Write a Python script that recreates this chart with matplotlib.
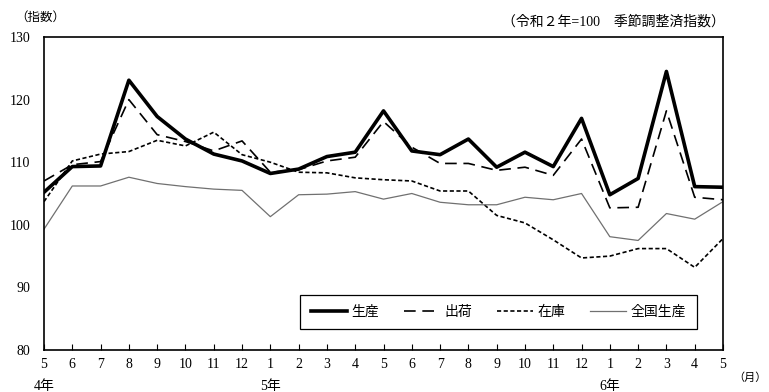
import matplotlib
matplotlib.use("Agg")
import matplotlib.pyplot as plt
from matplotlib.patches import Rectangle

plt.rcParams['font.family'] = ['Liberation Serif', 'Noto Sans CJK JP', 'DejaVu Sans']

# 月ラベル（令和4年5月〜令和6年5月）
months = ['5', '6', '7', '8', '9', '10', '11', '12', '1', '2', '3', '4',
          '5', '6', '7', '8', '9', '10', '11', '12', '1', '2', '3', '4', '5']
year_labels = {0: '4年', 8: '5年', 20: '6年'}

seisan = [105.2, 109.3, 109.4, 123.1, 117.3, 113.7, 111.3, 110.2, 108.2, 108.9, 110.9, 111.6,
          118.2, 111.8, 111.2, 113.7, 109.2, 111.6, 109.3, 117.0, 104.8, 107.4, 124.5, 106.1, 106.0]
shukka = [107.0, 109.6, 110.1, 120.0, 114.4, 113.3, 111.8, 113.4, 108.4, 108.8, 110.2, 110.8,
          116.5, 112.4, 109.8, 109.8, 108.7, 109.2, 107.9, 113.7, 102.7, 102.8, 118.2, 104.4, 104.0]
zaiko = [103.7, 110.2, 111.3, 111.7, 113.5, 112.6, 114.8, 111.2, 110.0, 108.4, 108.3, 107.5,
         107.2, 107.0, 105.4, 105.4, 101.5, 100.3, 97.6, 94.7, 95.0, 96.2, 96.2, 93.2, 97.8]
zenkoku = [99.3, 106.2, 106.2, 107.6, 106.6, 106.1, 105.7, 105.5, 101.3, 104.8, 104.9, 105.3,
           104.1, 105.0, 103.6, 103.2, 103.2, 104.4, 104.0, 105.0, 98.1, 97.5, 101.8, 100.9, 103.7]

x = list(range(len(months)))

fig = plt.figure(figsize=(7.69, 3.92), dpi=100)
ax = fig.add_axes([44/769, 42/392, (723-44)/769, (350-37)/392])

ax.plot(x, seisan, color='black', lw=2.6, label='生産')
ax.plot(x, shukka, color='black', lw=1.2, dashes=(7, 4), label='出荷')
ax.plot(x, zaiko, color='black', lw=1.2, dashes=(2.5, 1.5), label='在庫')
ax.plot(x, zenkoku, color='#707070', lw=0.9, label='全国生産')

ax.set_xlim(0, 24)
ax.set_ylim(80, 130)
ax.set_yticks([80, 90, 100, 110, 120, 130])
ax.set_xticks(x)
ax.set_xticklabels(months)
ax.tick_params(axis='x', direction='in', length=4, width=0.8, labelsize=10, pad=6)
ax.tick_params(axis='y', length=0, labelsize=10, pad=10)
for s in ax.spines.values():
    s.set_linewidth(1.2)

for i, lab in year_labels.items():
    ax.text(i, -0.095, lab, transform=ax.get_xaxis_transform(), ha='center', va='top', fontsize=10)
fig.text(750/769, 1 - 378/392, '（月）', ha='center', va='center', fontsize=8)
fig.text(40/769, 1 - 18/392, '（指数）', ha='center', va='center', fontsize=9)
fig.text(725/769, 1 - 22/392, '（令和２年=100　季節調整済指数）', ha='right', va='center', fontsize=10)

# 凡例の枠
bx0, bx1, by0, by1 = (300-44)/679, (697-44)/679, (350-329)/313, (350-295)/313
ax.add_patch(Rectangle((bx0, by0), bx1 - bx0, by1 - by0, transform=ax.transAxes,
                       facecolor='white', edgecolor='black', lw=0.9, zorder=4))
leg = ax.legend(loc='center', bbox_to_anchor=((bx0 + bx1) / 2, (by0 + by1) / 2),
                ncol=4, frameon=False, fontsize=10, handlelength=2.6,
                handletextpad=0.3, columnspacing=1.8, borderaxespad=0)
leg.set_zorder(5)

fig.savefig('out.png', dpi=100)
